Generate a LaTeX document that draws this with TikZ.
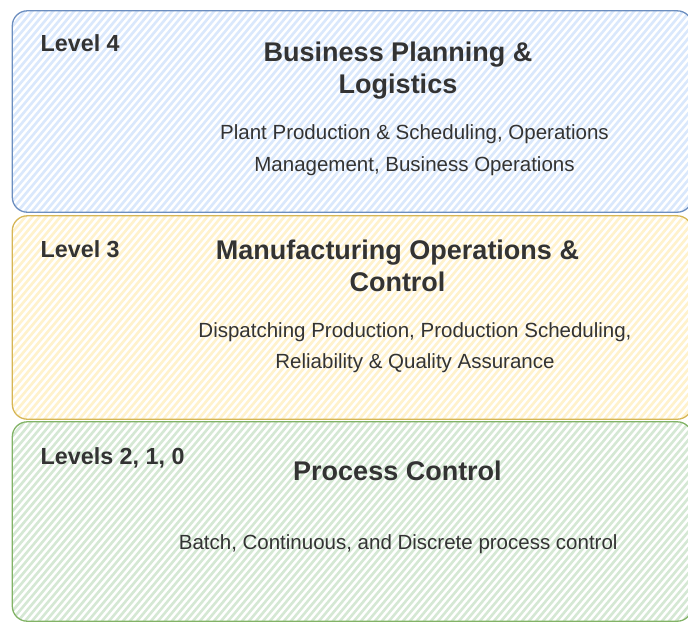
\documentclass[tikz,border=0pt]{standalone}
\usepackage{fontspec}
\setmainfont{Liberation Sans}
\definecolor{bfill}{HTML}{DAE8FC}
\definecolor{bline}{HTML}{6C8EBF}
\definecolor{yfill}{HTML}{FFF2CC}
\definecolor{yline}{HTML}{D6B656}
\definecolor{gfill}{HTML}{D5E8D4}
\definecolor{gline}{HTML}{82B366}
\definecolor{txt}{HTML}{333333}
\tikzset{
  layerbox/.style={rectangle, rounded corners=15pt, inner sep=0pt, fill=white,
    minimum width=679.5pt},
  hatchfill/.style={path picture={
      \foreach \k in {-82,...,54}
        \draw[#1, line width=2.6pt] (\k*7,110) -- ++(185,-220);
    }},
  outline/.style={draw=#1, line width=1.3pt, rounded corners=15pt},
  lvl/.style={anchor=base west, inner sep=0pt, text=txt,
    font=\fontsize{23.3pt}{28pt}\selectfont\bfseries},
  ttl/.style={anchor=base, inner sep=0pt, text=txt,
    font=\fontsize{27pt}{32pt}\selectfont\bfseries},
  dsc/.style={anchor=base, inner sep=0pt, text=txt,
    font=\fontsize{20.5pt}{25pt}\selectfont},
}
\begin{document}
\begin{tikzpicture}[x=1pt,y=-1pt]
\useasboundingbox (0,0) rectangle (688,622);

% boxes
\node[layerbox, hatchfill=bfill, minimum height=201pt] (blue) at (352.25,111.5) {};
\draw[outline=bline] (blue.north west) rectangle (blue.south east);
\node[layerbox, hatchfill=yfill, minimum height=203pt] (yellow) at (352.25,317.5) {};
\draw[outline=yline] (yellow.north west) rectangle (yellow.south east);
\node[layerbox, hatchfill=gfill, minimum height=199pt] (green) at (352.25,521.5) {};
\draw[outline=gline] (green.north west) rectangle (green.south east);

% level 4
\node[lvl] (l4) at (40.5,51.7) {Level 4};
\node[ttl] (t4a) at (398,61.7) {Business Planning \&};
\node[ttl] (t4b) at (398,93.5) {Logistics};
\node[dsc] (d4a) at (414.5,139.3) {Plant Production \& Scheduling, Operations};
\node[dsc] (d4b) at (414.5,171.7) {Management, Business Operations};

% level 3
\node[lvl] (l3) at (40.5,257) {Level 3};
\node[ttl] (t3a) at (397.5,259.3) {Manufacturing Operations \&};
\node[ttl] (t3b) at (397.5,291.7) {Control};
\node[dsc] (d3a) at (415,337) {Dispatching Production, Production Scheduling,};
\node[dsc] (d3b) at (415,368.8) {Reliability \& Quality Assurance};

% levels 2,1,0
\node[lvl] (l2) at (40.5,464.5) {Levels 2, 1, 0};
\node[ttl] (t2) at (397.5,480.7) {Process Control};
\node[dsc] (d2) at (398.2,549.3) {Batch, Continuous, and Discrete process control};
\end{tikzpicture}
\end{document}
